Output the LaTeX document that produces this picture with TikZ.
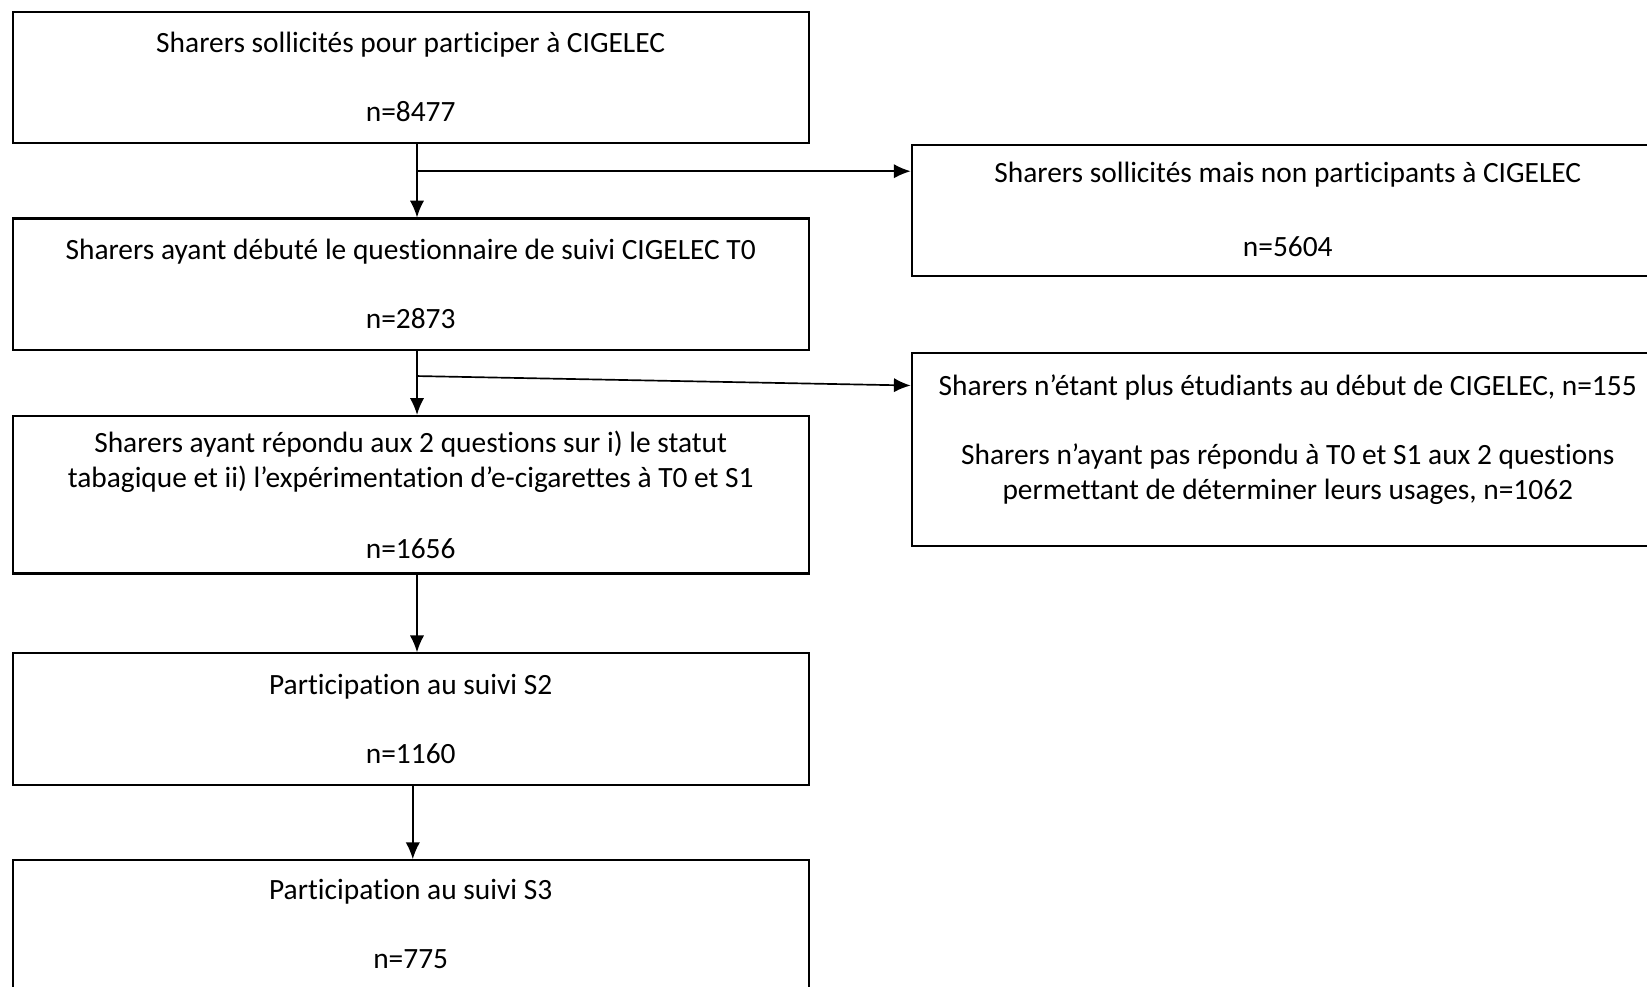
\documentclass[tikz,border=0pt]{standalone}
\usepackage{fontspec}
\setmainfont[Ligatures={TeX,NoCommon,NoContextual},Contextuals=NoAlternate]{Carlito}
\usetikzlibrary{arrows.meta,calc}
\begin{document}
\begin{tikzpicture}[x=0.5pt,y=-0.5pt]
\tikzstyle{box}=[draw,line width=1pt,inner sep=0pt,align=center,minimum width=379pt,minimum height=62.5pt,font=\fontsize{14}{16.5}\selectfont]
\tikzstyle{sidebox}=[draw,line width=1pt,inner sep=0pt,minimum width=415pt,anchor=north west]
\tikzstyle{txt}=[inner sep=0pt,align=center,font=\fontsize{14}{16.5}\selectfont]
\tikzstyle{arr}=[line width=0.8pt,-{Latex[length=8pt,width=6.8pt]}]
\useasboundingbox (0,0) rectangle (1568,939);
\clip (0,0) rectangle (1568,939);

\path (391,73.5) node[box](b1){Sharers sollicités pour participer à CIGELEC\\[16.5pt]n=8477};
\path (391,270.5) node[box](b2){Sharers ayant débuté le questionnaire de suivi CIGELEC T0\\[16.5pt]n=2873};
\path (391,471) node[box,minimum height=75pt](b3){Sharers ayant répondu aux 2 questions sur i) le statut\\tabagique et ii) l’expérimentation d’e-cigarettes à T0 et S1\\[17.5pt]n=1656};
\path (391,684.5) node[box](b4){Participation au suivi S2\\[16.5pt]n=1160};
\path (391,818) node[box,anchor=north,minimum height=100pt](b5){};
\path (391,879.5) node[txt](b5t){Participation au suivi S3\\[16.5pt]n=775};

\path (867,137) node[sidebox,minimum height=62.5pt](r1){};
\path (1226,199.5) node[txt](r1t){Sharers sollicités mais non participants à CIGELEC\\[19pt]n=5604};
\path (867,335) node[sidebox,minimum height=92pt](r2){};
\path (1226,418.5) node[txt](r2t){Sharers n’étant plus étudiants au début de CIGELEC, n=155\\[16.5pt]Sharers n’ayant pas répondu à T0 et S1 aux 2 questions\\permettant de déterminer leurs usages, n=1062};

\coordinate (j1) at (397,163);
\coordinate (j2) at (397,358);
\draw[arr] (b1.south -| j1) -- (b2.north -| j1);
\draw[arr] (j1) -- (j1 -| r1.west);
\draw[arr] (b2.south -| j2) -- (b3.north -| j2);
\draw[arr] (j2) -- ($(r2.north west)+(0,32)$);
\draw[arr] (b3.south -| j2) -- (b4.north -| j2);
\draw[arr] ([xshift=1pt]b4.south) -- ([xshift=1pt]b5.north);
\end{tikzpicture}
\end{document}
